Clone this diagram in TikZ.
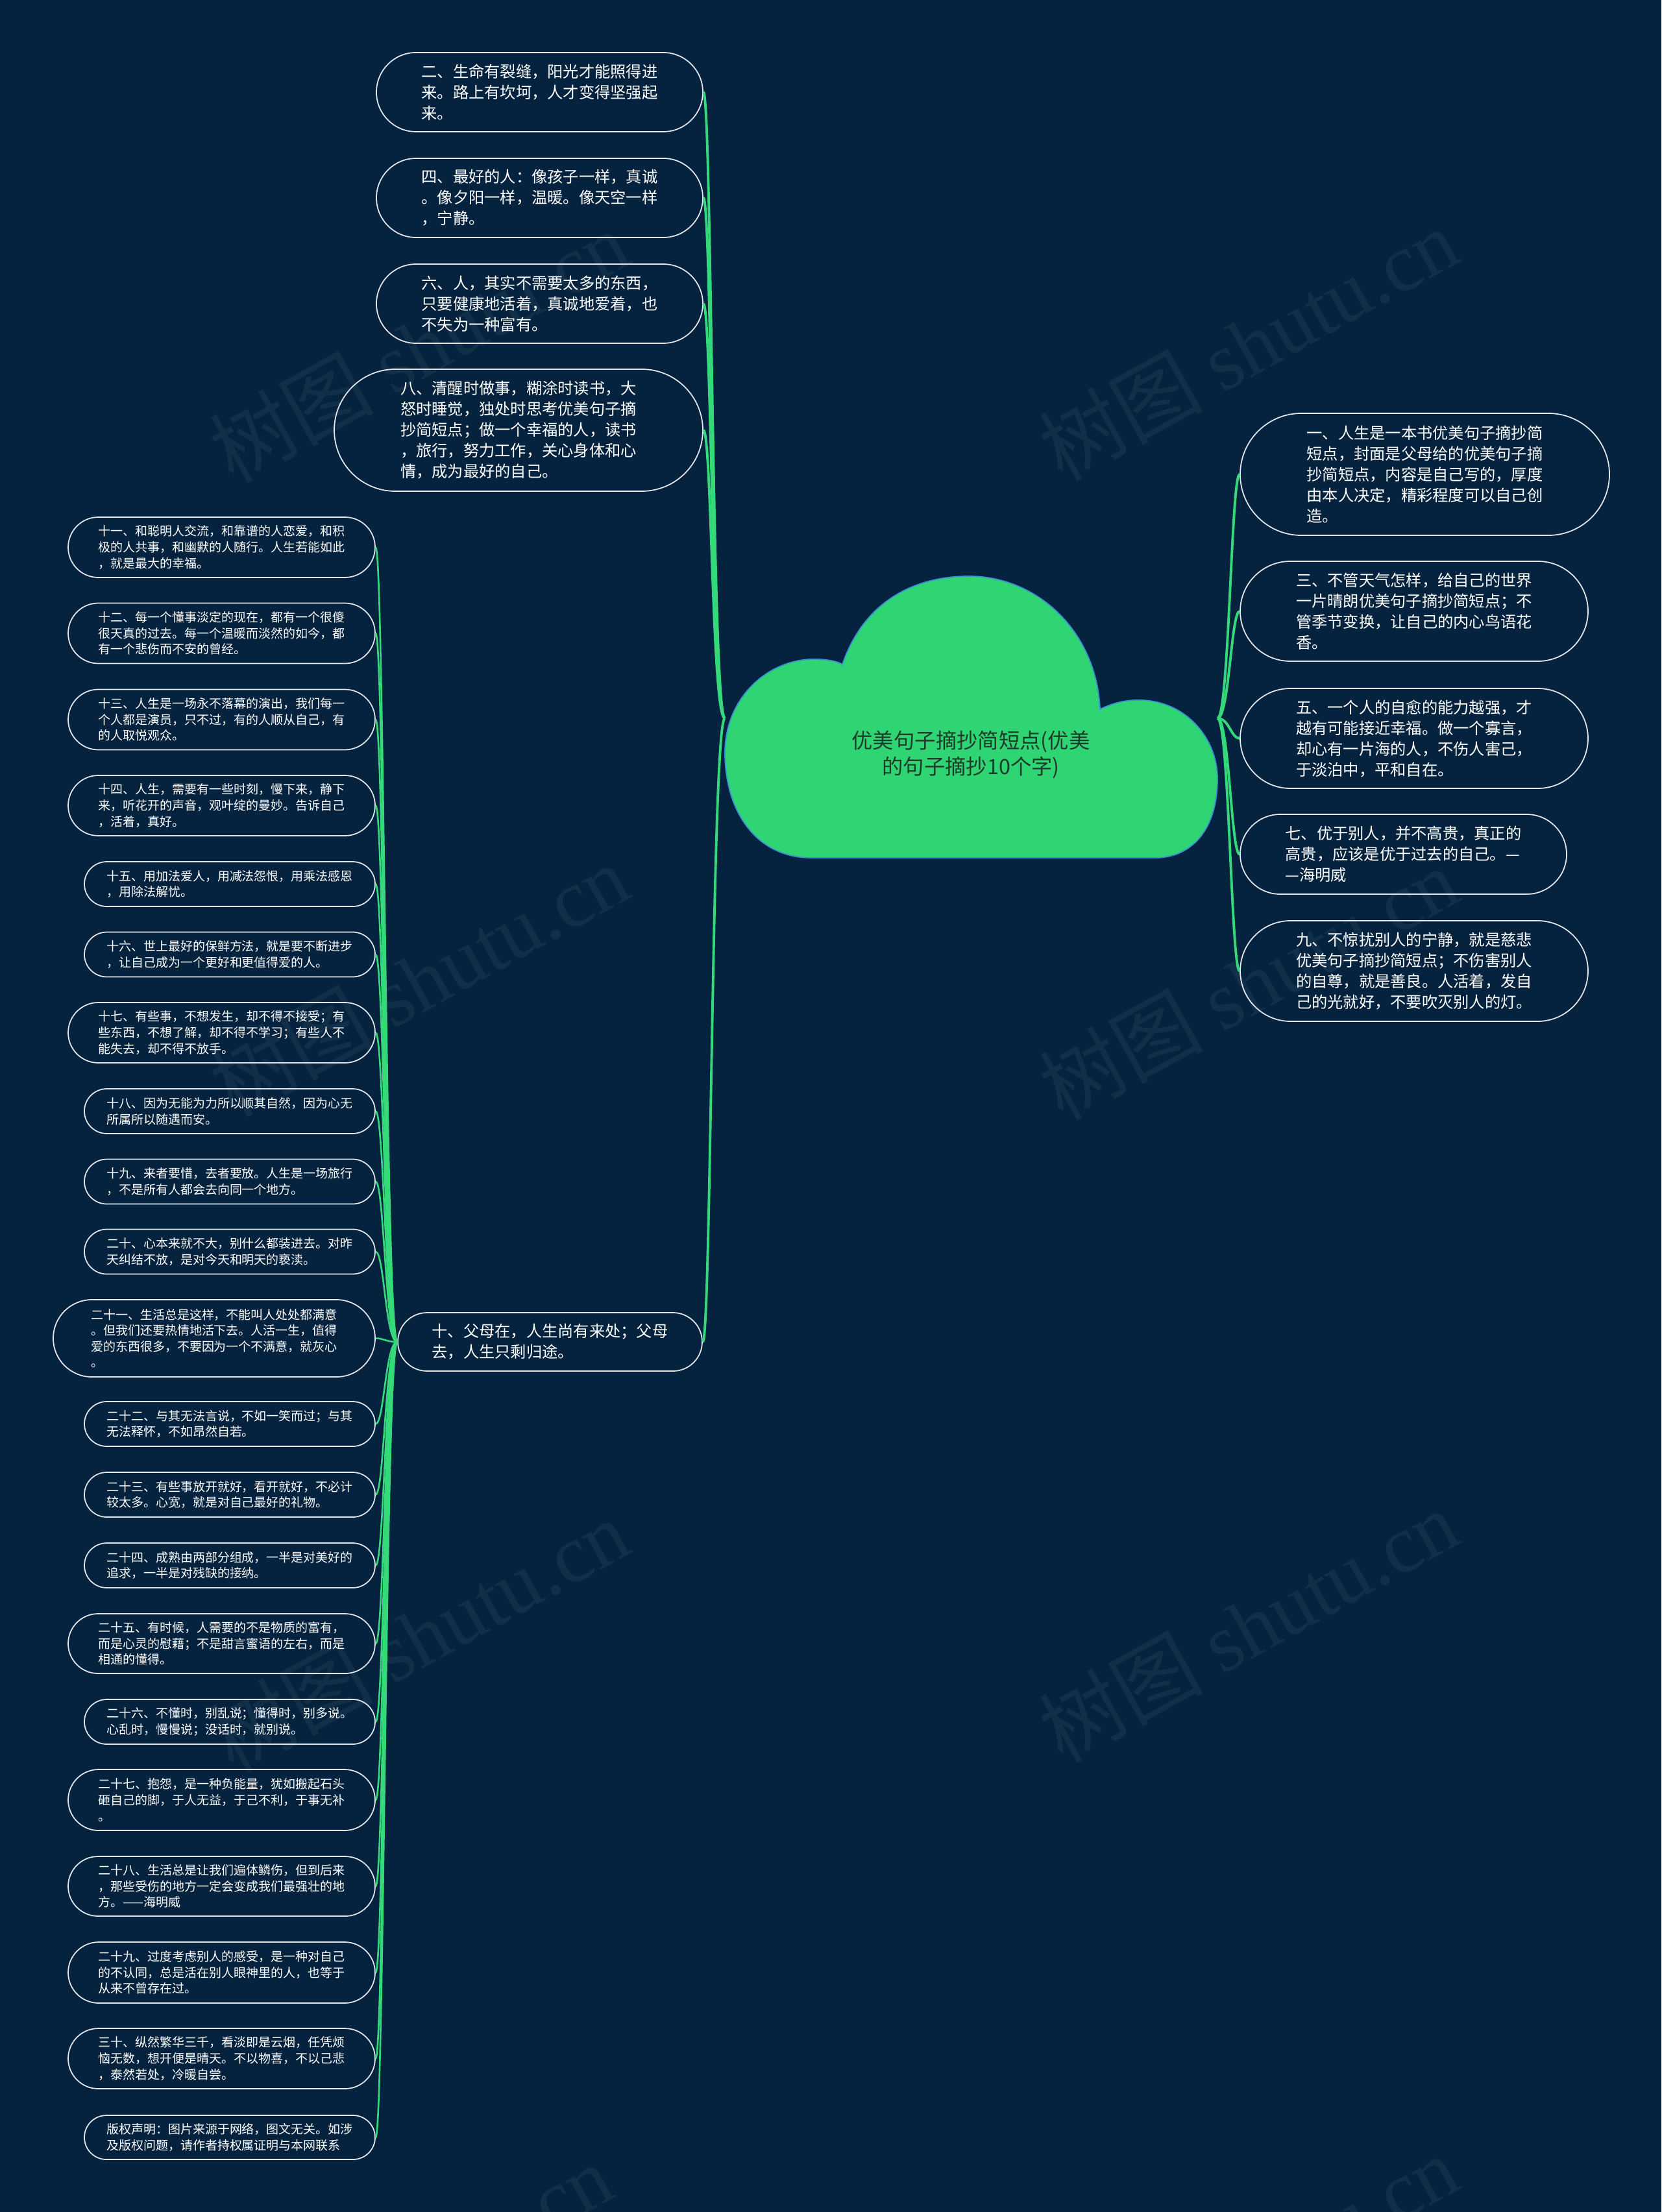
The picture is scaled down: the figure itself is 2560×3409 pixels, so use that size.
\documentclass[tikz,border=0pt]{standalone}
\usepackage{fontspec}
\setmainfont{Noto Sans CJK SC}
\newfontfamily\wmserif{Liberation Serif}
\definecolor{bg}{HTML}{05233F}
\definecolor{cloudgreen}{HTML}{2FD473}
\definecolor{cloudedge}{HTML}{3D8FD6}
\definecolor{linkgreen}{HTML}{34D97A}
\definecolor{rootink}{HTML}{1E3B2A}
\definecolor{pillline}{HTML}{E4E8EC}
\tikzset{
    pill/.style 2 args={draw=pillline, line width=0.5pt, text=white, align=left,
        inner sep=0pt, minimum width=#1*0.01cm, minimum height=#2*0.01cm,
        rounded corners=#2*0.005cm},
    bigtext/.style={font=\fontsize{6.9}{9.1}\selectfont},
    smalltext/.style={font=\fontsize{5.4}{7}\selectfont},
    roottext/.style={text=rootink, align=center, font=\fontsize{9.2}{11.4}\selectfont},
    link/.style={draw=linkgreen, line width=1.1pt},
    twig/.style={draw=linkgreen, line width=0.75pt},
    wmark/.style={text=white, opacity=0.055, rotate=29, font=\fontsize{36}{36}\selectfont}
}
\begin{document}
\begin{tikzpicture}[x=0.01cm, y=-0.01cm]
    % 背景
    \fill[bg] (0,0) rectangle (2560,3409);
    \useasboundingbox (0,0) rectangle (2560,3409);

    % 水印
    \foreach \i/\x/\y in {1/645/533, 2/1923/530, 3/645/1510, 4/1923/1515,
                          5/645/2520, 6/1923/2505, 7/620/3513, 8/1923/3500} {
        \node[wmark] (w\i) at (\x,\y) {树图 {\wmserif shutu.cn}};
    }

    % 中心
    \filldraw[fill=cloudgreen, draw=cloudedge, line width=0.5pt]
        (1250,1322) .. controls (1165,1322) and (1117,1250) .. (1117,1160)
        .. controls (1117,1075) and (1185,1012) .. (1262,1016)
        .. controls (1280,1017) and (1292,1020) .. (1298,1024)
        .. controls (1330,930) and (1405,888) .. (1493,888)
        .. controls (1600,888) and (1690,975) .. (1695,1093)
        .. controls (1718,1082) and (1738,1078) .. (1760,1079)
        .. controls (1830,1082) and (1876,1140) .. (1876,1200)
        .. controls (1876,1280) and (1835,1322) .. (1780,1322)
        -- cycle;
    \node[roottext] (root) at (1496,1163) {优美句子摘抄简短点(优美\\的句子摘抄10个字)};
    \coordinate (rootL) at (1117,1107);
    \coordinate (rootR) at (1876,1107);

    % 右侧
    \node[pill={569}{188}, bigtext] (n1) at (2195.5,731) {一、人生是一本书优美句子摘抄简\\短点，封面是父母给的优美句子摘\\抄简短点，内容是自己写的，厚度\\由本人决定，精彩程度可以自己创\\造。};
    \node[pill={536}{154}, bigtext] (n3) at (2179,942) {三、不管天气怎样，给自己的世界\\一片晴朗优美句子摘抄简短点；不\\管季节变换，让自己的内心鸟语花\\香。};
    \node[pill={536}{154}, bigtext] (n5) at (2179,1138) {五、一个人的自愈的能力越强，才\\越有可能接近幸福。做一个寡言，\\却心有一片海的人，不伤人害己，\\于淡泊中，平和自在。};
    \node[pill={503}{123}, bigtext] (n7) at (2162.5,1316.5) {七、优于别人，并不高贵，真正的\\高贵，应该是优于过去的自己。—\\—海明威};
    \node[pill={536}{155}, bigtext] (n9) at (2179,1496.5) {九、不惊扰别人的宁静，就是慈悲\\优美句子摘抄简短点；不伤害别人\\的自尊，就是善良。人活着，发自\\己的光就好，不要吹灭别人的灯。};

    % 左侧
    \node[pill={503}{122}, bigtext] (n2) at (831.5,142) {二、生命有裂缝，阳光才能照得进\\来。路上有坎坷，人才变得坚强起\\来。};
    \node[pill={503}{122}, bigtext] (n4) at (831.5,305) {四、最好的人：像孩子一样，真诚\\。像夕阳一样，温暖。像天空一样\\，宁静。};
    \node[pill={503}{122}, bigtext] (n6) at (831.5,468) {六、人，其实不需要太多的东西，\\只要健康地活着，真诚地爱着，也\\不失为一种富有。};
    \node[pill={568}{188}, bigtext] (n8) at (799,663) {八、清醒时做事，糊涂时读书，大\\怒时睡觉，独处时思考优美句子摘\\抄简短点；做一个幸福的人，读书\\，旅行，努力工作，关心身体和心\\情，成为最好的自己。};
    \node[pill={469}{90}, bigtext] (n10) at (847.5,2068) {十、父母在，人生尚有来处；父母\\去，人生只剩归途。};

    % 十的分支
    \node[pill={473}{93}, smalltext] (s11) at (341.5,843.5) {十一、和聪明人交流，和靠谱的人恋爱，和积\\极的人共事，和幽默的人随行。人生若能如此\\，就是最大的幸福。};
    \node[pill={473}{93}, smalltext] (s12) at (341.5,976) {十二、每一个懂事淡定的现在，都有一个很傻\\很天真的过去。每一个温暖而淡然的如今，都\\有一个悲伤而不安的曾经。};
    \node[pill={473}{93}, smalltext] (s13) at (341.5,1109) {十三、人生是一场永不落幕的演出，我们每一\\个人都是演员，只不过，有的人顺从自己，有\\的人取悦观众。};
    \node[pill={473}{93}, smalltext] (s14) at (341.5,1241.5) {十四、人生，需要有一些时刻，慢下来，静下\\来，听花开的声音，观叶绽的曼妙。告诉自己\\，活着，真好。};
    \node[pill={448}{69}, smalltext] (s15) at (354,1362.5) {十五、用加法爱人，用减法怨恨，用乘法感恩\\，用除法解忧。};
    \node[pill={448}{69}, smalltext] (s16) at (354,1471) {十六、世上最好的保鲜方法，就是要不断进步\\，让自己成为一个更好和更值得爱的人。};
    \node[pill={473}{93}, smalltext] (s17) at (341.5,1591.5) {十七、有些事，不想发生，却不得不接受；有\\些东西，不想了解，却不得不学习；有些人不\\能失去，却不得不放手。};
    \node[pill={448}{69}, smalltext] (s18) at (354,1712.5) {十八、因为无能为力所以顺其自然，因为心无\\所属所以随遇而安。};
    \node[pill={448}{69}, smalltext] (s19) at (354,1821) {十九、来者要惜，去者要放。人生是一场旅行\\，不是所有人都会去向同一个地方。};
    \node[pill={448}{69}, smalltext] (s20) at (354,1929) {二十、心本来就不大，别什么都装进去。对昨\\天纠结不放，是对今天和明天的亵渎。};
    \node[pill={496}{119}, smalltext] (s21) at (330,2062.5) {二十一、生活总是这样，不能叫人处处都满意\\。但我们还要热情地活下去。人活一生，值得\\爱的东西很多，不要因为一个不满意，就灰心\\。};
    \node[pill={448}{69}, smalltext] (s22) at (354,2194.5) {二十二、与其无法言说，不如一笑而过；与其\\无法释怀，不如昂然自若。};
    \node[pill={448}{69}, smalltext] (s23) at (354,2303.5) {二十三、有些事放开就好，看开就好，不必计\\较太多。心宽，就是对自己最好的礼物。};
    \node[pill={448}{69}, smalltext] (s24) at (354,2412.5) {二十四、成熟由两部分组成，一半是对美好的\\追求，一半是对残缺的接纳。};
    \node[pill={473}{92}, smalltext] (s25) at (341.5,2533) {二十五、有时候，人需要的不是物质的富有，\\而是心灵的慰藉；不是甜言蜜语的左右，而是\\相通的懂得。};
    \node[pill={448}{69}, smalltext] (s26) at (354,2653.5) {二十六、不懂时，别乱说；懂得时，别多说。\\心乱时，慢慢说；没话时，就别说。};
    \node[pill={473}{94}, smalltext] (s27) at (341.5,2774) {二十七、抱怨，是一种负能量，犹如搬起石头\\砸自己的脚，于人无益，于己不利，于事无补\\。};
    \node[pill={473}{92}, smalltext] (s28) at (341.5,2907) {二十八、生活总是让我们遍体鳞伤，但到后来\\，那些受伤的地方一定会变成我们最强壮的地\\方。——海明威};
    \node[pill={473}{94}, smalltext] (s29) at (341.5,3040) {二十九、过度考虑别人的感受，是一种对自己\\的不认同，总是活在别人眼神里的人，也等于\\从来不曾存在过。};
    \node[pill={473}{93}, smalltext] (s30) at (341.5,3172.5) {三十、纵然繁华三千，看淡即是云烟，任凭烦\\恼无数，想开便是晴天。不以物喜，不以己悲\\，泰然若处，冷暖自尝。};
    \node[pill={448}{68}, smalltext] (s31) at (354,3294) {版权声明：图片来源于网络，图文无关。如涉\\及版权问题，请作者持权属证明与本网联系};

    % 连线
    \foreach \k in {1,3,5,7,9}
        \draw[link] (rootR) .. controls +(18,0) and +(-13,0) .. (n\k.west);
    \foreach \k in {2,4,6,8,10}
        \draw[link] (rootL) .. controls +(-20,0) and +(13,0) .. (n\k.east);
    \foreach \k in {11,...,31}
        \draw[twig] (n10.west) .. controls +(-18,0) and +(13,0) .. (s\k.east);
\end{tikzpicture}
\end{document}
